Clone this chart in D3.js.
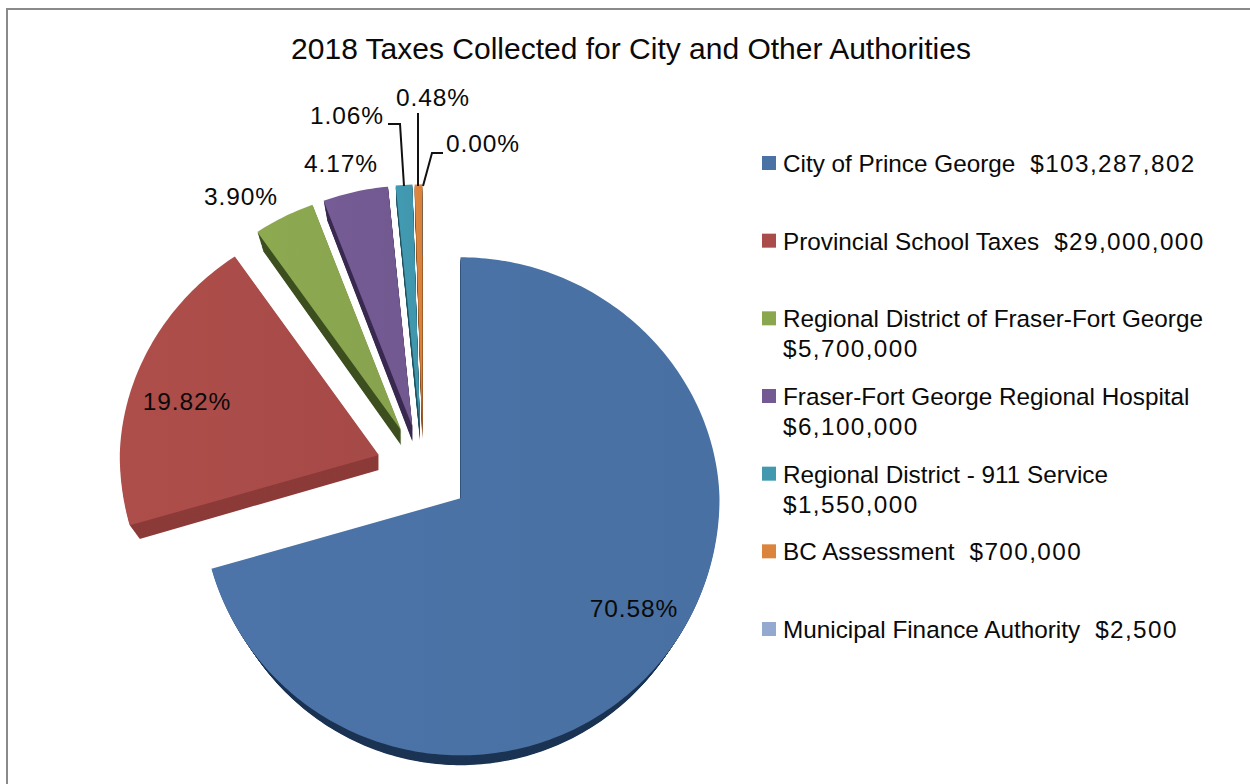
<!DOCTYPE html>
<html>
<head>
<meta charset="utf-8">
<script src="https://cdn.jsdelivr.net/npm/d3@7"></script>
<style>
  html, body { margin: 0; padding: 0; background: #fff; }
  svg { display: block; }
  text { font-family: "Liberation Sans", sans-serif; fill: #0a0a0a; }
  .amount { letter-spacing: 1.4px; }
  .pct { letter-spacing: 0.9px; }
</style>
</head>
<body>
<div id="d3-container"></div>
<script>
const categories = [
  'City of Prince George',
  'Provincial School Taxes',
  'Regional District of Fraser-Fort George',
  'Fraser-Fort George Regional Hospital',
  'Regional District - 911 Service',
  'BC Assessment',
  'Municipal Finance Authority'
];
const taxes = [103287802, 29000000, 5700000, 6100000, 1550000, 700000, 2500];
const faceColors = ['#4a72a5', '#aa4c49', '#8aa64f', '#735a92', '#4198af', '#db843d', '#94a9d0'];
const wallColors = ['#1c3454', '#8c3b39', '#3d4f1f', '#3a2a50', '#1f5563', '#8a5020', '#5a6a8a'];
// legend entries that wrap the amount on to a second line
const wrapped = [false, false, true, true, true, false, false];
const titleText = '2018 Taxes Collected for City and Other Authorities';

const width = 1250, height = 784;
const cx = 423, cy = 470;          // pie centre before the slices are pulled out
const explode = 47;
const rx = 259, ryTop = 241, ryBottom = 257;
const depth = 15;

// label centres, same order as the categories
const labelAt = [[634, 609], [187, 402], [241, 197], [341, 164], [347, 116], [433, 98], [483, 144]];
const leaders = [
  [[388, 124], [400, 124], [404, 186]],
  [[418, 113], [418, 186]],
  [[443, 153], [432, 153], [423, 186]]
];

const svg = d3.select('#d3-container')
  .append('svg')
  .attr('width', width)
  .attr('height', height);

svg.append('path')
  .attr('d', `M7,${height}V9H${width}`)
  .attr('fill', 'none')
  .attr('stroke', '#8a8a8a')
  .attr('stroke-width', 2);

svg.append('text')
  .attr('x', 631)
  .attr('y', 59)
  .attr('text-anchor', 'middle')
  .attr('font-size', 30)
  .text(titleText);

const arcs = d3.pie().sort(null)(taxes);
const total = d3.sum(taxes);
const pct = d3.format('.2%');
const money = d3.format('$,');

const line = d3.line();

// soft left to right shading on each top face
const defs = svg.append('defs');
const grads = defs.selectAll('linearGradient')
  .data(faceColors)
  .join('linearGradient')
  .attr('id', (d, i) => `face${i}`);
grads.append('stop').attr('offset', 0).attr('stop-color', d => d3.color(d).brighter(0.06));
grads.append('stop').attr('offset', 1).attr('stop-color', d => d3.color(d).darker(0.06));

// wedge outline on the tilted pie; the near half of the ellipse is deeper
// than the far half and the far side is a little narrower
function wedge(d, sx, sy) {
  const n = Math.max(2, Math.ceil((d.endAngle - d.startAngle) * 60));
  const pts = d3.range(n + 1).map(i => {
    const a = d.startAngle + (d.endAngle - d.startAngle) * i / n;
    const c = Math.cos(a);
    const far = c > 0 ? c : 0;
    return [Math.sin(a) * rx * sx * (1 - 0.025 * far), -c * (c > 0 ? ryTop : ryBottom) * sy];
  });
  return line([[0, 0], ...pts]) + 'Z';
}

function origin(d) {
  const mid = (d.startAngle + d.endAngle) / 2;
  const c = Math.cos(mid);
  return [cx + Math.sin(mid) * explode, cy - c * explode * (c > 0 ? 0.95 : 1)];
}

const slices = svg.append('g')
  .selectAll('g')
  .data(arcs)
  .join('g')
  .attr('transform', d => `translate(${origin(d)})`);

// side walls: stack of outlines going down
slices.each(function (d, i) {
  const g = d3.select(this);
  d3.range(depth, 0, -1).forEach(k => {
    const t = k / depth;
    g.append('path')
      .attr('d', wedge(d, 1 - 0.04 * t, 1 - 0.02 * t))
      .attr('transform', `translate(0,${k})`)
      .attr('fill', wallColors[i]);
  });
});

slices.append('path')
  .attr('d', d => wedge(d, 1, 1))
  .attr('fill', (d, i) => `url(#face${i})`);

// leader lines
svg.append('g')
  .selectAll('path')
  .data(leaders)
  .join('path')
  .attr('d', d => line(d))
  .attr('fill', 'none')
  .attr('stroke', '#111')
  .attr('stroke-width', 2);

// percent labels
svg.append('g')
  .selectAll('text')
  .data(taxes)
  .join('text')
  .attr('class', 'pct')
  .attr('x', (d, i) => labelAt[i][0])
  .attr('y', (d, i) => labelAt[i][1] + 8)
  .attr('text-anchor', 'middle')
  .attr('font-size', 24.5)
  .text(d => pct(d / total));

// legend
const legendY = d3.scalePoint()
  .domain(d3.range(categories.length))
  .range([163, 629]);

const legend = svg.append('g')
  .selectAll('g')
  .data(categories)
  .join('g')
  .attr('transform', (d, i) => `translate(762,${legendY(i)})`);

legend.append('rect')
  .attr('y', -7)
  .attr('width', 14)
  .attr('height', 14)
  .attr('fill', (d, i) => faceColors[i]);

const labels = legend.append('text')
  .attr('x', 21)
  .attr('y', 9)
  .attr('font-size', 24.3)
  .text(d => d);

// the amount sits after the name, or on its own line when the name is long
labels.append('tspan')
  .attr('class', 'amount')
  .attr('x', (d, i) => wrapped[i] ? 21 : null)
  .attr('dy', (d, i) => wrapped[i] ? 30 : null)
  .attr('dx', (d, i) => wrapped[i] ? null : 15)
  .text((d, i) => money(taxes[i]));
</script>
</body>
</html>
